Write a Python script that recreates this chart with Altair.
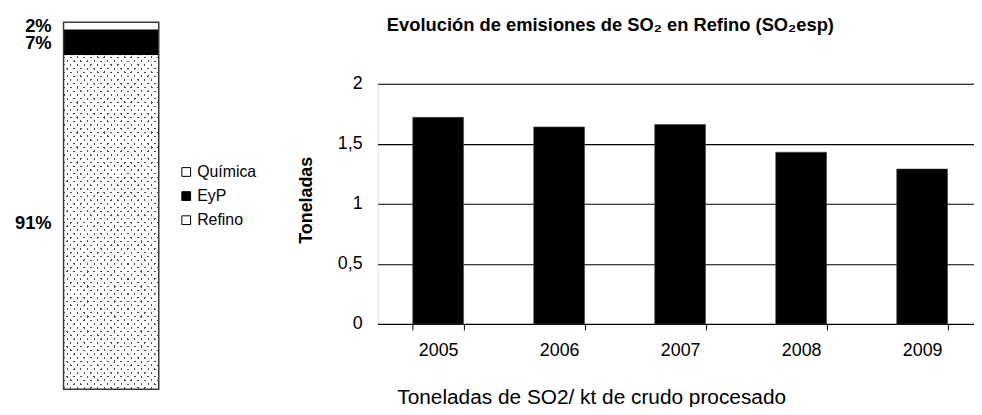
import altair as alt
import pandas as pd

# ---------------- data ----------------
anios = ["2005", "2006", "2007", "2008", "2009"]
toneladas = [1.72, 1.64, 1.66, 1.43, 1.29]

negocios = ["Química", "EyP", "Refino"]
porcentajes = [2, 7, 91]
orden_apilado = [2, 1, 0]          # Refino at the bottom, Química on top

y_ticks = [0, 0.5, 1, 1.5, 2]

# ---------------- style / layout ----------------
FONT = "Liberation Sans"
W, H = 601.3, 242.3                 # plot area of the bar chart on the right
X_RANGE = [0, 610]                  # last band runs past the visible edge
LEFT_X = [-316.7, -220.7]           # stacked bar, relative to the right plot origin
LEFT_Y = [308, -62]

df_bar = pd.DataFrame({"anio": anios, "valor": toneladas})
df_mix = pd.DataFrame({"negocio": negocios, "pct": porcentajes,
                       "orden": orden_apilado, "grupo": ["total"] * 3})


# dotted (stippled) fill built from two crossing striped gradients
def franjas(n, count, frac, on, off, start):
    stops = [alt.GradientStop(color=off, offset=0)]
    for k in range(count):
        a = (k + start) / n
        b = (k + start + frac) / n
        stops += [alt.GradientStop(color=off, offset=a), alt.GradientStop(color=on, offset=a),
                  alt.GradientStop(color=on, offset=b), alt.GradientStop(color=off, offset=b)]
    stops.append(alt.GradientStop(color=off, offset=1))
    return stops


R_SLOPE = 3.146
N_STRIPES = 154
N_USED = 61
dots_a = alt.LinearGradient(gradient="linear", x1=0, y1=0, x2=1, y2=R_SLOPE,
                            stops=franjas(N_STRIPES, N_USED, 0.3, "#4d4d4d", "white", 0.2))
dots_b = alt.LinearGradient(gradient="linear", x1=1, y1=0, x2=0, y2=R_SLOPE,
                            stops=franjas(N_STRIPES, N_USED, 0.3, "rgba(255,255,255,0)", "white", 0.2))

# ---------------- right: bar chart ----------------
bars = alt.Chart(df_bar).mark_bar(color="black", stroke="#444444", strokeWidth=0.6).encode(
    x=alt.X("anio:N", sort=anios,
            scale=alt.Scale(range=X_RANGE, paddingInner=0.58, paddingOuter=0.29),
            axis=alt.Axis(title="Toneladas de SO2/ kt de crudo procesado",
                          labelAngle=0, labelFontSize=18, labelFont=FONT, labelColor="black",
                          labelBaseline="middle", labelPadding=20.5,
                          tickBand="extent", tickSize=6, tickColor="black",
                          domainColor="black", domainWidth=1, grid=False,
                          titleFontSize=21, titleFontWeight="normal", titleFont=FONT,
                          titleColor="black", titleAlign="left", titleBaseline="alphabetic",
                          titleX=19.3, titleY=80)),
    y=alt.Y("valor:Q", scale=alt.Scale(domain=[0, 2], nice=False),
            axis=alt.Axis(values=y_ticks,
                          labelExpr="replace(toString(datum.value), '.', ',')",
                          domain=False, ticks=False, labelPadding=15.7,
                          labelFontSize=18, labelFont=FONT, labelColor="black",
                          grid=True, gridColor="black", gridWidth=1.2,
                          title="Toneladas", titleFontSize=18, titleFont=FONT,
                          titleFontWeight="bold", titleColor="black",
                          titleX=-72, titleY=117, titleAlign="center",
                          titleBaseline="middle", titleAngle=-90)),
)

# ---------------- left: 100% stacked bar ----------------
base_left = alt.Chart(df_mix).transform_stack(
    stack="pct", groupby=["grupo"], as_=["y0", "y1"],
    sort=[alt.SortField("orden", order="ascending")])

xl = alt.X("grupo:N", scale=alt.Scale(range=LEFT_X, paddingInner=0, paddingOuter=0), axis=None)
yscale = alt.Scale(domain=[0, 100], range=LEFT_Y, nice=False)

segs = base_left.mark_bar().encode(
    x=xl,
    y=alt.Y("y0:Q", scale=yscale, axis=None),
    y2="y1:Q",
    color=alt.Color("negocio:N",
                    scale=alt.Scale(domain=negocios, range=["white", "black", "white"]),
                    legend=alt.Legend(title=None, orient="none", legendX=-201, legendY=81,
                                      symbolType="square", symbolSize=78,
                                      symbolStrokeColor="black", symbolStrokeWidth=1,
                                      labelFontSize=16, labelFont=FONT, labelColor="black",
                                      rowPadding=8.3, labelOffset=3)),
)

refino = base_left.transform_filter(alt.datum.negocio == "Refino")
tex_a = refino.mark_bar(fill=dots_a).encode(
    x=xl, y=alt.Y("y0:Q", scale=yscale, axis=None), y2="y1:Q")
tex_b = refino.mark_bar(fill=dots_b).encode(
    x=xl, y=alt.Y("y0:Q", scale=yscale, axis=None), y2="y1:Q")

outline = alt.Chart(df_mix).transform_aggregate(
    total="sum(pct)", groupby=["grupo"]
).mark_bar(fillOpacity=0, stroke="#3a3a3a", strokeWidth=1.5).encode(
    x=xl, y=alt.Y("total:Q", scale=yscale, axis=None))

labels = base_left.transform_calculate(
    mid="(datum.y0 + datum.y1) / 2", etiqueta="datum.pct + '%'"
).mark_text(align="right", baseline="middle", dx=-12, dy=0.5, fontSize=18.5,
            fontWeight="bold", font=FONT, color="black").encode(
    x=alt.X("grupo:N", scale=alt.Scale(range=LEFT_X, paddingInner=0, paddingOuter=0),
            axis=None, bandPosition=0),
    y=alt.Y("mid:Q", scale=yscale, axis=None),
    text="etiqueta:N")

left = alt.layer(segs, tex_a, tex_b, outline, labels)

chart = alt.layer(bars, left).resolve_scale(
    x="independent", y="independent"
).properties(
    width=W, height=H,
    autosize=alt.AutoSizeParams(type="none"),
    padding={"left": 372.7, "top": 74.7, "right": 0, "bottom": 82},
    title=alt.Title("Evolución de emisiones de SO₂ en Refino (SO₂esp)",
                    anchor="start", frame="group", dx=9.3, offset=-32,
                    baseline="alphabetic", fontSize=18.5, fontWeight="bold",
                    font=FONT, color="black"),
).configure_view(stroke=None).configure(background="white")

chart.save("out.html", embed_options={"renderer": "svg", "actions": False})
